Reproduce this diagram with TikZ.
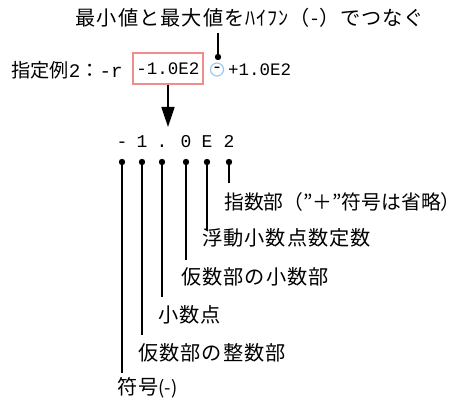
\documentclass[tikz,border=0pt]{standalone}
\usepackage{fontspec}
\setmainfont{Noto Sans CJK JP}
\newfontfamily\jp[LetterSpace=5]{Noto Sans CJK JP}
\newfontfamily\lat{Liberation Mono}
\usetikzlibrary{arrows.meta}
\definecolor{boxred}{HTML}{F08C8C}
\definecolor{circblue}{HTML}{9CC8F4}
\tikzset{
  txt/.style={font=\jp\fontsize{20.2}{22}\selectfont, inner sep=0pt},
  lbl/.style={txt, anchor=west},
  mono/.style={font=\lat\fontsize{17.5}{20}\selectfont, inner sep=0pt},
  chr/.style={font=\lat\fontsize{18}{20}\selectfont, inner sep=0pt, anchor=base},
  pinline/.style={line width=1.6pt, black},
  pindot/.style={fill=black, draw=none},
}
\begin{document}
\begin{tikzpicture}[x=1pt,y=-1pt]
\useasboundingbox (0,0) rectangle (466,403);
% title
\node[txt] (title) at (250,18) {最小値と最大値をﾊｲﾌﾝ（-）でつなぐ};
% example line
\node[lbl, font=\fontsize{19.2}{21}\selectfont] (ex) at (11,70) {指定例{\lat 2}：{\lat -r}};
\node[mono, draw=boxred, line width=1.2pt, minimum width=70pt, minimum height=31pt] (box) at (168,68.5) {-1.0E2};
\node[circle, draw=circblue, line width=1.2pt, minimum size=13pt, inner sep=0pt] (hy) at (217,69.5) {};
\node[mono] at (hy) {-};
\node[mono, anchor=west] (max) at (228,70) {+1.0E2};
\coordinate (tstart) at (218,33);
\coordinate (tdot) at (218,57);
\draw[pinline] (tstart) -- (tdot);
\fill[pindot] (tdot) circle (3.2pt);
% arrow
\coordinate (aend) at (168,127);
\draw[line width=1.6pt, -{Triangle[width=13pt,length=20pt]}] (box.south) -- (aend);
% characters
\node[chr] (c1) at (122,148) {-};
\node[chr] (c2) at (142,148) {1};
\node[chr] (c3) at (162,148) {.};
\node[chr] (c4) at (186,148) {0};
\node[chr] (c5) at (207,148) {E};
\node[chr] (c6) at (229,148) {2};
\foreach \n/\x/\e in {1/122/373, 2/142/335, 3/162/297, 4/186/260, 5/207/230, 6/229/183}{
  \coordinate (d\n) at (\x,162);
  \coordinate (e\n) at (\x,\e);
  \draw[pinline] (d\n) -- (e\n);
  \fill[pindot] (d\n) circle (3.2pt);
}
% labels
\node[lbl, font=\fontsize{19.8}{22}\selectfont] (l6) at (224,202) {指数部（”＋”符号は省略）};
\node[lbl] (l5) at (202,238) {浮動小数点数定数};
\node[lbl] (l4) at (181,277) {仮数部の小数部};
\node[lbl] (l3) at (158,315) {小数点};
\node[lbl] (l2) at (138,353) {仮数部の整数部};
\node[lbl] (l1) at (117,388) {符号{\rmfamily\fontsize{18.5}{20}\selectfont(-)}};
\end{tikzpicture}
\end{document}
